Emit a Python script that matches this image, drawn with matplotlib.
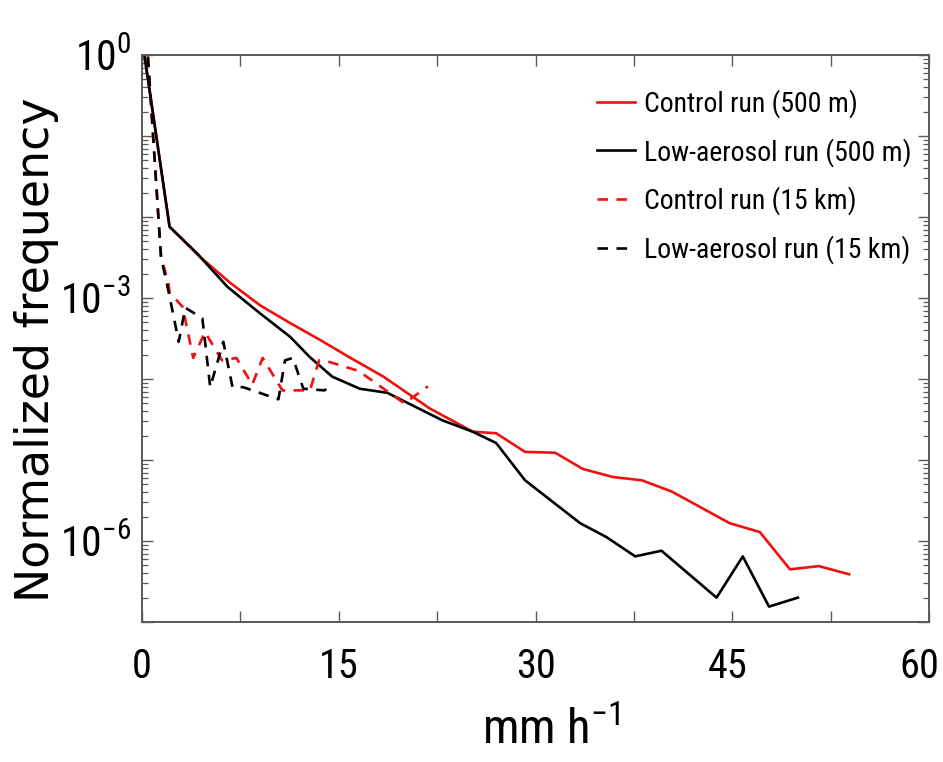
import math
import matplotlib
matplotlib.use("Agg")
import matplotlib.pyplot as plt
import matplotlib.transforms as mtransforms
from matplotlib import font_manager
from matplotlib.ticker import LogLocator, FuncFormatter, MultipleLocator, NullFormatter

# Rain-rate bins (mm h-1) and normalized frequencies for each simulation
ctrl_500m_x = [0.2, 2.1, 4.4, 6.7, 9.0, 11.3, 13.6, 15.8, 18.4, 21.9, 25.2, 27.0,
               29.2, 31.5, 33.6, 35.9, 38.1, 40.4, 44.8, 47.1, 49.4, 51.6, 53.9]
ctrl_500m_y = [9.55e-1, 7.59e-3, 3.24e-3, 1.55e-3, 8.13e-4, 4.90e-4, 3.02e-4, 1.86e-4,
               1.07e-4, 4.37e-5, 2.24e-5, 2.14e-5, 1.26e-5, 1.23e-5, 7.76e-6, 6.17e-6,
               5.62e-6, 4.07e-6, 1.66e-6, 1.29e-6, 4.47e-7, 4.90e-7, 3.89e-7]

low_500m_x = [0.2, 2.1, 4.2, 6.5, 9.0, 11.3, 12.8, 14.5, 16.6, 18.7, 22.9, 25.2,
              27.0, 29.2, 33.4, 35.4, 37.6, 39.6, 43.8, 45.8, 47.8, 50.0]
low_500m_y = [9.55e-1, 7.59e-3, 3.55e-3, 1.38e-3, 6.46e-4, 3.31e-4, 1.86e-4, 1.07e-4,
              7.59e-5, 6.76e-5, 3.09e-5, 2.24e-5, 1.62e-5, 5.62e-6, 1.66e-6, 1.12e-6,
              6.46e-7, 7.59e-7, 2.00e-7, 6.46e-7, 1.55e-7, 2.00e-7]

ctrl_15km_x = [0.45, 1.45, 2.0, 2.1, 3.1, 3.9, 4.8, 6.1, 7.2, 8.4, 9.2, 10.7, 12.8,
               13.5, 14.3, 16.5, 20.0, 21.8]
ctrl_15km_y = [9.55e-1, 3.16e-3, 1.58e-3, 1.17e-3, 7.76e-4, 1.82e-4, 3.80e-4, 1.70e-4,
               1.82e-4, 8.51e-5, 1.82e-4, 7.24e-5, 7.24e-5, 1.70e-4, 1.62e-4, 1.26e-4,
               5.01e-5, 8.13e-5]

low_15km_x = [0.45, 1.45, 2.0, 2.8, 3.3, 4.6, 5.2, 6.2, 6.9, 7.7, 10.4, 10.9, 11.5,
              12.3, 13.9, 14.6]
low_15km_y = [9.55e-1, 3.16e-3, 1.26e-3, 2.88e-4, 7.59e-4, 5.62e-4, 7.94e-5, 2.88e-4,
              7.94e-5, 7.94e-5, 5.62e-5, 1.70e-4, 1.82e-4, 7.59e-5, 7.24e-5, 8.51e-5]

series_labels = ["Control run (500 m)", "Low-aerosol run (500 m)",
                 "Control run (15 km)", "Low-aerosol run (15 km)"]
x_tick_values = [0, 15, 30, 45, 60]
x_label = r"mm h$^{-1}$"
y_label = "Normalized frequency"

# Pick a narrow face for numbers and legend text
available = {f.name for f in font_manager.fontManager.ttflist}
narrow = "DejaVu Sans"
for cand in ["Roboto Condensed", "Liberation Sans Narrow", "Open Sans Condensed",
             "DejaVu Sans Condensed", "Liberation Sans"]:
    if cand in available:
        narrow = cand
        break

plt.rcParams["font.family"] = [narrow, "DejaVu Sans"]
plt.rcParams["mathtext.fontset"] = "custom"
plt.rcParams["mathtext.rm"] = narrow
plt.rcParams["mathtext.it"] = narrow
plt.rcParams["mathtext.bf"] = narrow

fig = plt.figure(figsize=(9.43, 7.62), dpi=100)
ax = fig.add_axes([0.1506, 0.1837, 0.8346, 0.7441])

red = "#f01010"
lw = 1.9
dash = (0, (4, 3.2))
ax.plot(ctrl_500m_x, ctrl_500m_y, color=red, lw=lw, label=series_labels[0])
ax.plot(low_500m_x, low_500m_y, color="black", lw=lw, label=series_labels[1])
ax.plot(ctrl_15km_x, ctrl_15km_y, color=red, lw=lw, ls=dash, label=series_labels[2])
ax.plot(low_15km_x, low_15km_y, color="black", lw=lw, ls=dash, label=series_labels[3])

ax.set_yscale("log")
ax.set_xlim(0, 60)
ax.set_ylim(1e-7, 1e0)

ax.xaxis.set_major_locator(MultipleLocator(7.5))
ax.xaxis.set_major_formatter(
    FuncFormatter(lambda v, p: f"{v:g}" if any(abs(v - t) < 1e-6 for t in x_tick_values) else ""))
ax.yaxis.set_major_locator(LogLocator(base=10, numticks=20))
ax.yaxis.set_minor_locator(LogLocator(base=10, subs=range(2, 10), numticks=20))
ax.yaxis.set_minor_formatter(NullFormatter())


def ylab(v, pos):
    e = int(round(math.log10(v)))
    if e % 3 == 0:
        return r"$\mathregular{10^{%d}}$" % e
    return ""


ax.yaxis.set_major_formatter(FuncFormatter(ylab))

spine_col = "#5a5a5a"
for s in ax.spines.values():
    s.set_color(spine_col)
    s.set_linewidth(1.4)
ax.tick_params(which="both", direction="in", top=True, right=True, color=spine_col)
ax.tick_params(which="major", length=8, width=1.0)
ax.tick_params(which="minor", length=4.5, width=0.9)
ax.tick_params(axis="x", labelsize=29, pad=18)
ax.tick_params(axis="y", labelsize=30, pad=8)

# nudge the outer x tick labels inward a little
fig.canvas.draw()
for lbl in ax.get_xticklabels():
    if lbl.get_text() == "60":
        lbl.set_transform(lbl.get_transform() +
                          mtransforms.ScaledTranslation(-10 / 100, 0, fig.dpi_scale_trans))
    elif lbl.get_text() == "45":
        lbl.set_transform(lbl.get_transform() +
                          mtransforms.ScaledTranslation(-5 / 100, 0, fig.dpi_scale_trans))

ax.set_xlabel(x_label, fontsize=35)
ax.xaxis.set_label_coords(0.52, -0.15)
ax.set_ylabel(y_label, fontsize=33, family="DejaVu Sans")
ax.yaxis.set_label_coords(-0.106, 0.48)

leg = ax.legend(loc="upper left", bbox_to_anchor=(597 / 943, 1 - 89 / 762),
                bbox_transform=fig.transFigure, frameon=False, fontsize=20,
                handlelength=1.35, handletextpad=0.35, labelspacing=0.72,
                borderaxespad=0, borderpad=0)

fig.savefig("out.png", dpi=100)
